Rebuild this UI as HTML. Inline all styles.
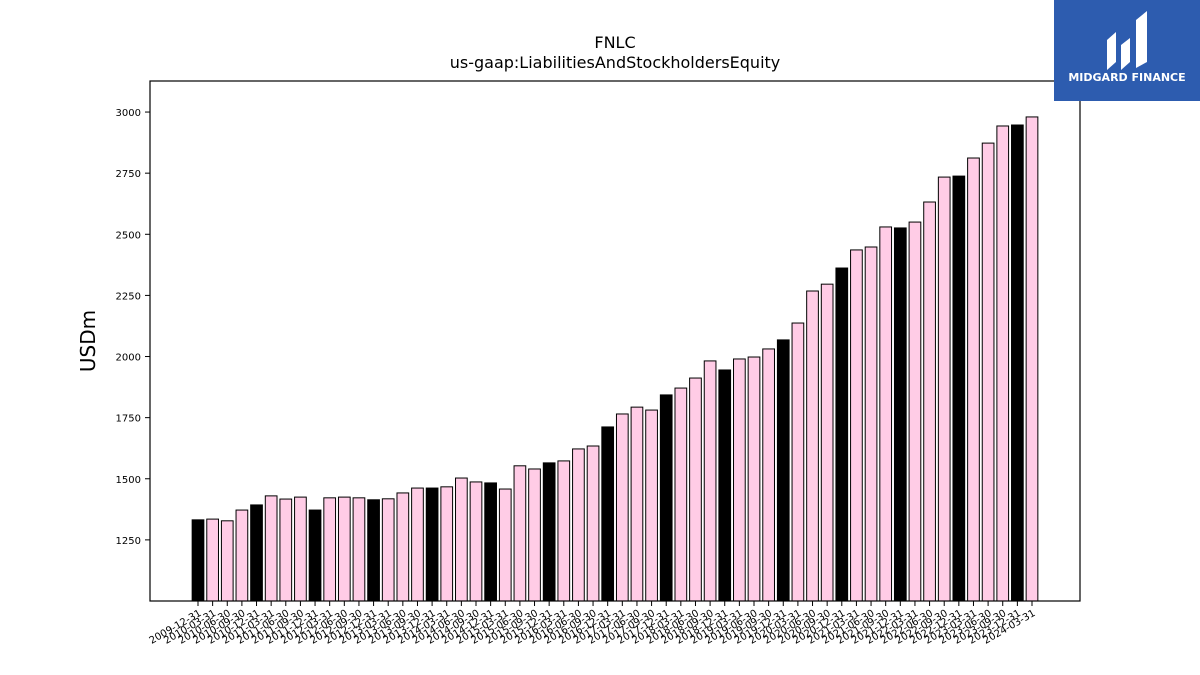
<!DOCTYPE html>
<html><head><meta charset="utf-8"><style>
body{margin:0;background:#fff;font-family:"DejaVu Sans","Liberation Sans",sans-serif}
#wrap{position:relative;width:1200px;height:675px;overflow:hidden}
</style></head><body>
<div id="wrap">
<svg id="chart" width="1200" height="675" xmlns="http://www.w3.org/2000/svg" font-family="DejaVu Sans, Liberation Sans, sans-serif">
<text x="615" y="48" text-anchor="middle" font-size="16">FNLC</text>
<text x="615" y="68" text-anchor="middle" font-size="16">us-gaap:LiabilitiesAndStockholdersEquity</text>
<text transform="translate(95,341) rotate(-90)" text-anchor="middle" font-size="20">USDm</text>
<g id="bars"></g><g id="yticks"></g><g id="xticks"></g>
<rect x="150" y="81" width="930" height="520" fill="none" stroke="#000" stroke-width="1.2"/>
<g>
<rect x="1054" y="0" width="146" height="101" fill="#2d5caf"/>
<path d="M1107 70 L1107 40 L1116 32 L1116 62 Z M1121 70 L1121 45 L1130 38 L1130 62 Z M1136 68 L1136 20 L1147 11 L1147 62 Z" fill="#fff"/>
<text x="1127" y="81" text-anchor="middle" font-size="11" font-weight="bold" fill="#fff">MIDGARD FINANCE</text>
</g>
</svg>
</div>
<script>
const categories=["2009-12-31","2010-03-31","2010-06-30","2010-09-30","2010-12-31","2011-03-31","2011-06-30","2011-09-30","2011-12-31","2012-03-31","2012-06-30","2012-09-30","2012-12-31","2013-03-31","2013-06-30","2013-09-30","2013-12-31","2014-03-31","2014-06-30","2014-09-30","2014-12-31","2015-03-31","2015-06-30","2015-09-30","2015-12-31","2016-03-31","2016-06-30","2016-09-30","2016-12-31","2017-03-31","2017-06-30","2017-09-30","2017-12-31","2018-03-31","2018-06-30","2018-09-30","2018-12-31","2019-03-31","2019-06-30","2019-09-30","2019-12-31","2020-03-31","2020-06-30","2020-09-30","2020-12-31","2021-03-31","2021-06-30","2021-09-30","2021-12-31","2022-03-31","2022-06-30","2022-09-30","2022-12-31","2023-03-31","2023-06-30","2023-09-30","2023-12-31","2024-03-31"];
const values=[1332,1335,1328,1372,1393,1430,1417,1425,1372,1422,1425,1422,1414,1418,1442,1462,1462,1467,1503,1487,1483,1458,1553,1540,1565,1573,1622,1634,1712,1765,1793,1781,1843,1871,1912,1982,1945,1990,1998,2031,2068,2137,2268,2296,2362,2436,2448,2530,2526,2550,2632,2734,2738,2812,2873,2943,2947,2980];
const yTicks=[1250,1500,1750,2000,2250,2500,2750,3000];
const NS="http://www.w3.org/2000/svg";
const yMin=1000,yMax=3127,plotTop=81,plotBot=601,plotLeft=150;
const yScale=v=>plotBot-(v-yMin)/(yMax-yMin)*(plotBot-plotTop);
const step=(1032-198)/(categories.length-1);
const xScale=i=>198+i*step;
const bw=step*0.8;
function mk(t,a,p){const e=document.createElementNS(NS,t);for(const k in a)e.setAttribute(k,a[k]);p.appendChild(e);return e;}
const gb=document.getElementById('bars'),gy=document.getElementById('yticks'),gx=document.getElementById('xticks');
values.forEach((v,i)=>{
 const annual=categories[i].endsWith('12-31');
 const r=mk('rect',{x:xScale(i)-bw/2,y:yScale(v),width:bw,height:plotBot-yScale(v),fill:annual?'#000':'#ffcce6',stroke:'#000','stroke-width':1},gb);
 
 
 const t=mk('line',{x1:xScale(i),x2:xScale(i),y1:plotBot,y2:plotBot+5,stroke:'#000'},gx);
 
 
 const l=mk('text',{transform:`translate(${xScale(i)+4},${plotBot+14}) rotate(-30)`,'text-anchor':'end','font-size':10},gx);
 l.textContent=categories[i];
 
 
});
yTicks.forEach(v=>{
 const t=mk('line',{x1:plotLeft-5,x2:plotLeft,y1:yScale(v),y2:yScale(v),stroke:'#000'},gy);
 
 
 const l=mk('text',{x:plotLeft-9,y:yScale(v)+4,'text-anchor':'end','font-size':10},gy);
 l.textContent=v;
 
 
});
</script>
</body></html>
